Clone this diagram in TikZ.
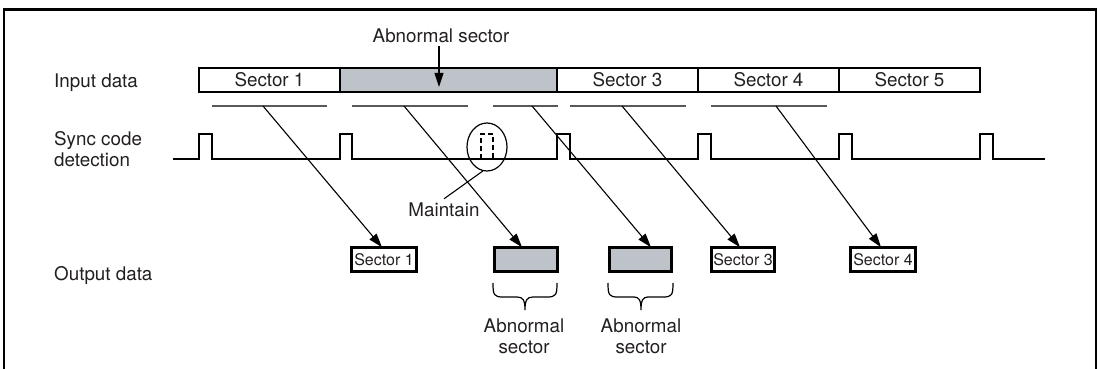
\documentclass[tikz,border=0pt]{standalone}
\usepackage{fontspec}
\setmainfont{TeX Gyre Heros}
\usetikzlibrary{arrows.meta,calc,shapes.geometric}
\definecolor{txt}{RGB}{35,31,32}
\definecolor{abn}{RGB}{190,195,201}
\begin{document}
\begin{tikzpicture}[x=1pt,y=-1pt,
  font=\fontsize{18.8}{21}\selectfont, text=txt,
  lbl/.style={inner sep=0pt},
  inbox/.style={draw=black, line width=2.5pt, minimum height=24pt, inner sep=0pt, outer sep=0pt},
  outbox/.style={draw=black, line width=2.6pt, minimum height=24.5pt, inner sep=0pt, outer sep=0pt,
    font=\fontsize{16}{18}\selectfont},
  pulse/.style={line width=2.4pt, line join=miter},
  uline/.style={line width=1.3pt, draw=black!65},
  conn/.style={line width=1.1pt, -{Triangle[length=14pt,width=9pt]}},
  bracestyle/.style={line width=1.2pt},
  thinline/.style={line width=1.1pt}]
\useasboundingbox (0,0) rectangle (1100,369);

% frame
\draw[line width=2.2pt] (4.3,372) -- (4.3,9.5) -- (1096,9.5) -- (1096,372);

% row labels
\node[lbl, anchor=base west] (lin) at (54,88) {Input data};
\node[lbl, align=left, anchor=west] (lsync) at (54,149) {Sync code\\detection};
\node[lbl, anchor=base west] (lout) at (54,280) {Output data};

% input data boxes
\node[inbox, minimum width=141pt] (s1) at (269.5,80) {Sector 1};
\node[inbox, minimum width=217pt, fill=abn] (sab) at (448.5,80) {};
\node[inbox, minimum width=141pt] (s3) at (627.5,80) {Sector 3};
\node[inbox, minimum width=141pt] (s4) at (768.5,80) {Sector 4};
\node[inbox, minimum width=141pt] (s5) at (909.5,80) {Sector 5};

% abnormal sector label
\node[anchor=base, inner sep=3pt] (abtxt) at (441,43) {Abnormal sector};
\coordinate (abtip) at (439,87);
\draw[conn] (abtxt.south -| abtip) -- (abtip);

% underlines
\draw[uline] (212,106) -- (327,106);
\draw[uline] (352,106) -- (468,106);
\draw[uline] (493,106) -- (558,106);
\draw[uline] (570,106) -- (686,106);
\draw[uline] (711,106) -- (827,106);

% sync code detection pulses
\draw[pulse] (173,159) -- (199,159) -- (199,134) -- (212,134) -- (212,159)
  -- (340,159) -- (340,134) -- (352,134) -- (352,159)
  -- (557,159) -- (557,134) -- (570,134) -- (570,159)
  -- (698,159) -- (698,134) -- (711,134) -- (711,159)
  -- (839,159) -- (839,134) -- (852,134) -- (852,159)
  -- (980,159) -- (980,134) -- (993,134) -- (993,159)
  -- (1045,159);
\draw[line width=2.2pt, dash pattern=on 5pt off 3pt] (481,159) -- (481,134) -- (493,134) -- (493,159);

% maintain
\node[ellipse, draw, line width=1.2pt, minimum width=40pt, minimum height=48pt, inner sep=0pt] (circ) at (487,147) {};
\node[anchor=base, inner sep=4pt] (maint) at (444,216.7) {Maintain};
\draw[thinline] (circ.-100) -- (maint.north);

% output boxes
\node[outbox, minimum width=65.5pt] (o1) at (384,259.5) {Sector 1};
\node[outbox, minimum width=63.5pt, fill=abn] (o2) at (526,259.5) {};
\node[outbox, minimum width=62.5pt, fill=abn] (o3) at (640.5,259.5) {};
\node[outbox, minimum width=63.5pt] (o4) at (743,259.5) {Sector 3};
\node[outbox, minimum width=65.5pt] (o5) at (883,259.5) {Sector 4};

% connectors
\coordinate (u1) at (263,106);
\coordinate (u2) at (404,106);
\coordinate (u3) at (532,106);
\coordinate (u4) at (622,106);
\coordinate (u5) at (776,106);
\draw[conn] (u1) -- ([xshift=-2pt]o1.north);
\draw[conn] (u2) -- ([xshift=-4pt]o2.north);
\draw[conn] (u3) -- ([xshift=10.5pt]o3.north);
\draw[conn] (u4) -- ([xshift=-3pt]o4.north);
\draw[conn] (u5) -- ([xshift=-2pt]o5.north);

% braces
\draw[bracestyle] (493,283) .. controls (493,295) and (494,297) .. (503,297) -- (517,297)
  .. controls (523,297) and (525,300) .. (525,310)
  .. controls (525,300) and (527,297) .. (533,297) -- (547,297)
  .. controls (556,297) and (557,295) .. (557,283);
\draw[bracestyle] (608,283) .. controls (608,295) and (609,297) .. (618,297) -- (634,297)
  .. controls (639,297) and (641,300) .. (641,310)
  .. controls (641,300) and (643,297) .. (648,297) -- (663,297)
  .. controls (672,297) and (673,295) .. (673,283);
\node[lbl, align=center] (ab1) at (524,336) {Abnormal\\sector};
\node[lbl, align=center] (ab2) at (641,336) {Abnormal\\sector};
\end{tikzpicture}
\end{document}
